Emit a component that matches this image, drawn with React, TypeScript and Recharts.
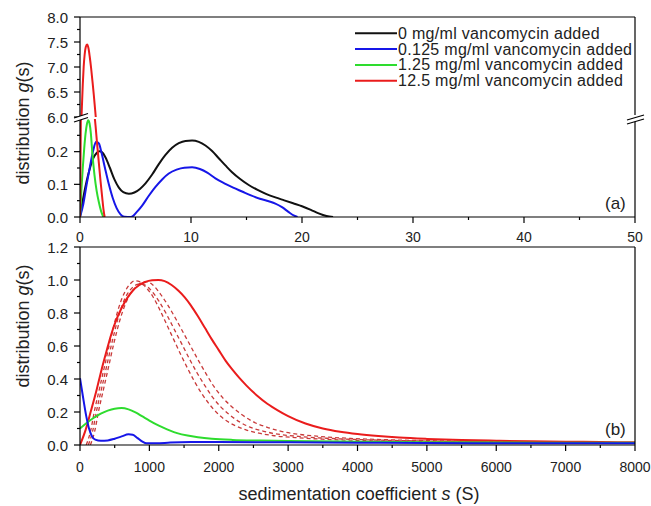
import { Line, LineChart, XAxis, YAxis } from "recharts";

type Pt = [number, number | null];

// panel (a): s from 0 to 50 S, broken y axis (0-0.3 below, 6-8 above)
const aBlack: Pt[] = [
  [0, 0], [0.3, 0.06], [0.6, 0.11], [0.9, 0.15], [1.2, 0.18], [1.5, 0.196], [1.75, 0.201], [2.0, 0.198],
  [2.3, 0.182], [2.7, 0.15], [3.1, 0.115], [3.5, 0.09], [3.9, 0.076], [4.4, 0.071], [4.9, 0.075], [5.4, 0.086],
  [5.9, 0.103], [6.5, 0.13], [7.1, 0.162], [7.7, 0.19], [8.3, 0.212], [8.9, 0.226], [9.5, 0.233], [10.1, 0.234],
  [10.7, 0.23], [11.3, 0.219], [11.9, 0.202], [12.5, 0.18], [13.1, 0.158], [13.7, 0.137], [14.4, 0.117],
  [15.2, 0.098], [16, 0.083], [16.8, 0.07], [17.6, 0.06], [18.4, 0.051], [19.2, 0.042], [20, 0.033],
  [20.8, 0.022], [21.5, 0.011], [22.2, 0.003], [22.8, 0],
];
const aBlue: Pt[] = [
  [0, 0], [0.3, 0.04], [0.6, 0.1], [0.9, 0.155], [1.2, 0.205], [1.45, 0.23], [1.7, 0.225], [1.95, 0.195],
  [2.25, 0.15], [2.6, 0.1], [2.95, 0.058], [3.3, 0.027], [3.65, 0.008], [4.0, 0.001], [4.6, 0], [5.1, 0.015],
  [5.6, 0.035], [6.2, 0.065], [6.8, 0.092], [7.4, 0.115], [8.0, 0.133], [8.7, 0.145], [9.4, 0.151], [10.1, 0.152],
  [10.8, 0.147], [11.5, 0.135], [12.2, 0.118], [13, 0.103], [13.8, 0.09], [14.6, 0.078], [15.4, 0.066],
  [16.2, 0.056], [17, 0.048], [17.6, 0.041], [18.2, 0.03], [18.8, 0.015], [19.3, 0.004], [19.6, 0],
];
const aGreen: Pt[] = [
  [0, 0], [0.12, 0.08], [0.25, 0.15], [0.38, 0.21], [0.5, 0.255], [0.62, 0.284], [0.74, 0.296], [0.86, 0.286],
  [0.98, 0.255], [1.1, 0.2], [1.3, 0.13], [1.5, 0.08], [1.7, 0.045], [1.9, 0.018], [2.1, 0],
];
const aRedLow: Pt[] = [
  [0, 0], [0.04, 0.15], [0.08, 0.32], [0.7, null], [1.25, 0.33], [1.4, 0.28], [1.55, 0.22], [1.7, 0.165],
  [1.85, 0.11], [2.0, 0.06], [2.12, 0.022], [2.22, 0],
];
const aRedUp: Pt[] = [
  [0.1, 5.8], [0.17, 6.2], [0.25, 6.65], [0.33, 7.0], [0.42, 7.25], [0.52, 7.4], [0.64, 7.45], [0.76, 7.38],
  [0.88, 7.2], [1.0, 6.98], [1.12, 6.72], [1.24, 6.45], [1.36, 6.15], [1.46, 5.9],
];

// panel (b): s from 0 to 8000 S
const bRed: Pt[] = [
  [0, 0], [80, 0.09], [160, 0.21], [240, 0.335], [310, 0.455], [380, 0.565], [450, 0.67], [520, 0.755],
  [600, 0.83], [680, 0.89], [760, 0.935], [850, 0.968], [940, 0.988], [1040, 0.998], [1130, 1.0], [1220, 0.993],
  [1320, 0.97], [1420, 0.935], [1510, 0.895], [1600, 0.845], [1700, 0.78], [1800, 0.71], [1900, 0.64],
  [2000, 0.575], [2100, 0.51], [2200, 0.455], [2300, 0.405], [2400, 0.36], [2550, 0.3], [2700, 0.25],
  [2850, 0.21], [3000, 0.175], [3250, 0.13], [3500, 0.1], [3750, 0.08], [4000, 0.066], [4300, 0.054],
  [4600, 0.045], [5000, 0.037], [5500, 0.03], [6000, 0.026], [6500, 0.022], [7000, 0.02], [7500, 0.018],
  [8000, 0.016],
];
const bDash1: Pt[] = [
  [90, 0], [150, 0.08], [210, 0.21], [280, 0.34], [350, 0.47], [430, 0.62], [510, 0.76], [580, 0.86],
  [650, 0.93], [720, 0.975], [790, 0.995], [860, 0.99], [950, 0.955], [1050, 0.9], [1150, 0.82], [1250, 0.73],
  [1350, 0.64], [1450, 0.55], [1550, 0.465], [1650, 0.385], [1750, 0.315], [1850, 0.255], [1950, 0.205],
  [2100, 0.15], [2250, 0.115], [2400, 0.09], [2600, 0.07], [2800, 0.056], [3100, 0.045], [3500, 0.035],
  [4000, 0.028], [5000, 0.02], [6000, 0.016], [7000, 0.013], [8000, 0.011],
];
const bDash2: Pt[] = [
  [120, 0], [180, 0.08], [240, 0.21], [310, 0.34], [380, 0.47], [460, 0.62], [540, 0.755], [610, 0.85],
  [690, 0.92], [770, 0.96], [850, 0.975], [930, 0.97], [1030, 0.935], [1140, 0.87], [1250, 0.79], [1360, 0.7],
  [1470, 0.61], [1580, 0.52], [1690, 0.435], [1800, 0.36], [1910, 0.29], [2020, 0.235], [2150, 0.185],
  [2300, 0.14], [2450, 0.108], [2650, 0.083], [2850, 0.066], [3150, 0.052], [3600, 0.04], [4100, 0.032],
  [5000, 0.024], [6000, 0.019], [7000, 0.016], [8000, 0.013],
];
const bDash3: Pt[] = [
  [150, 0], [210, 0.08], [270, 0.21], [340, 0.34], [410, 0.47], [490, 0.62], [570, 0.75], [650, 0.85],
  [730, 0.92], [810, 0.96], [890, 0.985], [960, 0.99], [1050, 0.97], [1160, 0.915], [1270, 0.845], [1380, 0.765],
  [1490, 0.68], [1600, 0.595], [1710, 0.51], [1820, 0.43], [1930, 0.355], [2050, 0.29], [2180, 0.235],
  [2330, 0.185], [2500, 0.14], [2700, 0.107], [2900, 0.083], [3150, 0.065], [3450, 0.052], [3900, 0.04],
  [4500, 0.031], [5200, 0.025], [6000, 0.021], [7000, 0.017], [8000, 0.014],
];
const bGreen: Pt[] = [
  [0, 0.1], [100, 0.135], [200, 0.165], [300, 0.19], [400, 0.208], [500, 0.22], [600, 0.224], [700, 0.216],
  [800, 0.198], [900, 0.173], [1000, 0.148], [1100, 0.125], [1200, 0.105], [1300, 0.087], [1400, 0.072],
  [1550, 0.057], [1700, 0.047], [1900, 0.038], [2200, 0.031], [2600, 0.027], [3000, 0.024], [4000, 0.02],
  [5000, 0.017], [6000, 0.015], [7000, 0.014], [8000, 0.013],
];
const bBlue: Pt[] = [
  [0, 0.405], [40, 0.3], [90, 0.175], [130, 0.1], [170, 0.055], [220, 0.033], [300, 0.026], [400, 0.028],
  [500, 0.038], [600, 0.052], [700, 0.065], [760, 0.062], [830, 0.042], [900, 0.02], [960, 0.01], [1100, 0.01],
  [1300, 0.015], [1600, 0.018], [2000, 0.018], [3000, 0.016], [4000, 0.014], [5000, 0.012], [6000, 0.011],
  [7000, 0.01], [8000, 0.01],
];

const legendNames = [
  "0 mg/ml vancomycin added",
  "0.125 mg/ml vancomycin added",
  "1.25 mg/ml vancomycin added",
  "12.5 mg/ml vancomycin added",
];

const aXTicks = [0, 5, 10, 15, 20, 25, 30, 35, 40, 45, 50];
const aUpperTicks = [6, 6.25, 6.5, 6.75, 7, 7.25, 7.5, 7.75, 8];
const aLowerTicks = [0, 0.05, 0.1, 0.15, 0.2, 0.25];
const bXTicks = [0, 500, 1000, 1500, 2000, 2500, 3000, 3500, 4000, 4500, 5000, 5500, 6000, 6500, 7000, 7500, 8000];
const bYTicks = [0, 0.1, 0.2, 0.3, 0.4, 0.5, 0.6, 0.7, 0.8, 0.9, 1.0, 1.1, 1.2];

const FONT = "'Liberation Sans', Arial, Helvetica, sans-serif";
const BLACK = "#111111";
const BLUE = "#1616e8";
const GREEN = "#2edc2e";
const RED = "#ea1c1c";
const DASH = "#c93a3a";
const colors = [BLACK, BLUE, GREEN, RED];

const LEFT = 80;
const W = 651;
const RIGHT_M = 16;

const rows = (pts: Pt[]) => pts.map(([x, y]) => ({ x, y }));

function yTick(isMajor: (v: number) => boolean) {
  return (p: any) => {
    const v = p.payload.value as number;
    const major = isMajor(v);
    return (
      <g>
        <line x1={LEFT} x2={LEFT - (major ? 6 : 3)} y1={p.y} y2={p.y} stroke="#000" strokeWidth={1.2} />
        {major ? (
          <text x={LEFT - 12} y={p.y + 5.5} textAnchor="end" fontSize={15} fontFamily={FONT} fill="#222">
            {v.toFixed(1)}
          </text>
        ) : null}
      </g>
    );
  };
}

function xTick(axisY: number, dy: number, isMajor: (v: number) => boolean) {
  return (p: any) => {
    const v = p.payload.value as number;
    const major = isMajor(v);
    return (
      <g>
        <line x1={p.x} x2={p.x} y1={axisY} y2={axisY + (major ? 6 : 3)} stroke="#000" strokeWidth={1.2} />
        {major ? (
          <text x={p.x} y={axisY + dy} textAnchor="middle" fontSize={14} fontFamily={FONT} fill="#222">
            {v}
          </text>
        ) : null}
      </g>
    );
  };
}

const near = (a: number, b: number) => Math.abs(a - b) < 1e-6;
const axisLine = { stroke: "#000", strokeWidth: 1.2 };

function series(data: Pt[], color: string, dashed = false) {
  return (
    <Line
      data={rows(data)}
      dataKey="y"
      type="monotone"
      stroke={color}
      strokeWidth={dashed ? 1.3 : 2}
      strokeDasharray={dashed ? "4 3" : undefined}
      dot={false}
      activeDot={false}
      connectNulls={false}
      isAnimationActive={false}
    />
  );
}

export default function App() {
  const abs = (top: number): React.CSSProperties => ({ position: "absolute", left: 0, top });
  return (
    <div style={{ position: "absolute", left: 0, top: 0, width: W, height: 506, background: "#fff", fontFamily: FONT }}>
      {/* (a) upper segment 6-8 */}
      <div style={abs(0)}>
        <LineChart width={W} height={128} margin={{ top: 17, right: RIGHT_M, bottom: 11, left: 0 }}>
          <XAxis type="number" dataKey="x" domain={[0, 50]} hide allowDataOverflow />
          <YAxis
            type="number"
            domain={[6, 8]}
            ticks={aUpperTicks}
            interval={0}
            width={LEFT}
            allowDataOverflow
            tickLine={false}
            axisLine={axisLine}
            tick={yTick((v) => near(v * 2, Math.round(v * 2)))}
          />
          {series(aRedUp, RED)}
        </LineChart>
      </div>

      {/* (a) lower segment 0-0.3 */}
      <div style={abs(109)}>
        <LineChart width={W} height={140} margin={{ top: 10, right: RIGHT_M, bottom: 0, left: 0 }}>
          <XAxis
            type="number"
            dataKey="x"
            domain={[0, 50]}
            ticks={aXTicks}
            interval={0}
            height={32}
            allowDataOverflow
            tickLine={false}
            axisLine={axisLine}
            tick={xTick(108, 25, (v) => v % 10 === 0)}
          />
          <YAxis
            type="number"
            domain={[0, 0.3]}
            ticks={aLowerTicks}
            interval={0}
            width={LEFT}
            allowDataOverflow
            tickLine={false}
            axisLine={axisLine}
            tick={yTick((v) => near(v * 10, Math.round(v * 10)))}
          />
          {series(aBlack, BLACK)}
          {series(aBlue, BLUE)}
          {series(aGreen, GREEN)}
          {series(aRedLow, RED)}
        </LineChart>
      </div>

      {/* (b) */}
      <div style={abs(237)}>
        <LineChart width={W} height={243} margin={{ top: 10, right: RIGHT_M, bottom: 0, left: 0 }}>
          <XAxis
            type="number"
            dataKey="x"
            domain={[0, 8000]}
            ticks={bXTicks}
            interval={0}
            height={35}
            allowDataOverflow
            tickLine={false}
            axisLine={axisLine}
            tick={xTick(208, 27, (v) => v % 1000 === 0)}
          />
          <YAxis
            type="number"
            domain={[0, 1.2]}
            ticks={bYTicks}
            interval={0}
            width={LEFT}
            allowDataOverflow
            tickLine={false}
            axisLine={axisLine}
            tick={yTick((v) => Math.round(v * 10) % 2 === 0)}
          />
          {series(bDash1, DASH, true)}
          {series(bDash2, DASH, true)}
          {series(bDash3, DASH, true)}
          {series(bRed, RED)}
          {series(bGreen, GREEN)}
          {series(bBlue, BLUE)}
        </LineChart>
      </div>

      {/* frame, breaks, legend and titles */}
      <svg width={W} height={506} style={{ position: "absolute", left: 0, top: 0, pointerEvents: "none" }} fontFamily={FONT}>
        <g stroke="#000" strokeWidth={1.2}>
          <line x1={LEFT} x2={635} y1={17} y2={17} />
          <line x1={635} x2={635} y1={17} y2={115} />
          <line x1={635} x2={635} y1={120} y2={217} />
          <line x1={LEFT} x2={635} y1={247} y2={247} />
          <line x1={635} x2={635} y1={247} y2={445} />
        </g>
        <polygon points="74,118 88,113.5 88,117.5 74,122" fill="#fff" />
        <polygon points="627,120 644,115 644,119 627,124" fill="#fff" />
        <g stroke="#000" strokeWidth={1.2}>
          <line x1={74} y1={118} x2={88} y2={113.5} />
          <line x1={74} y1={122} x2={88} y2={117.5} />
          <line x1={627} y1={120} x2={644} y2={115} />
          <line x1={627} y1={124} x2={644} y2={119} />
        </g>

        {legendNames.map((name, i) => {
          const cy = 33.3 + i * 15.8;
          return (
            <g key={name}>
              <line x1={355} x2={397} y1={cy} y2={cy} stroke={colors[i]} strokeWidth={2} />
              <text x={398} y={cy + 5.5} fontSize={16} letterSpacing={0.3} fill="#222">
                {name}
              </text>
            </g>
          );
        })}

        <text x={605} y={209} fontSize={17} fill="#222">(a)</text>
        <text x={605} y={435} fontSize={17} fill="#222">(b)</text>

        <text x={29} y={123} transform="rotate(-90 29 123)" textAnchor="middle" fontSize={18} fill="#222">
          distribution <tspan fontStyle="italic">g</tspan>(s)
        </text>
        <text x={29} y={326} transform="rotate(-90 29 326)" textAnchor="middle" fontSize={18} fill="#222">
          distribution <tspan fontStyle="italic">g</tspan>(s)
        </text>
        <text x={359} y={500} textAnchor="middle" fontSize={18} fill="#222">
          sedimentation coefficient <tspan fontStyle="italic">s</tspan> (S)
        </text>
      </svg>
    </div>
  );
}
